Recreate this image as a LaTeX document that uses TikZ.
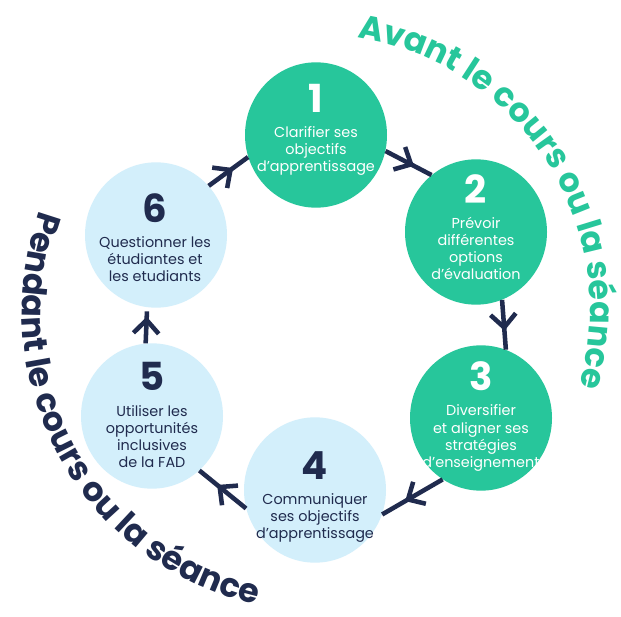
\documentclass[tikz,border=0pt]{standalone}
\usepackage{fontspec}
\setmainfont{Poppins}
\usetikzlibrary{shapes.geometric,arrows.meta,decorations.markings,decorations.text}
\definecolor{cgreen}{HTML}{27C69B}
\definecolor{cblue}{HTML}{D3EFFB}
\definecolor{cnavy}{HTML}{202B4E}
\begin{document}
\begin{tikzpicture}[x=0.75pt,y=-0.75pt,
  stepbox/.style={ellipse, minimum width=106.5pt, minimum height=109pt, inner sep=0pt},
  greenbox/.style={stepbox, fill=cgreen},
  bluebox/.style={stepbox, fill=cblue},
  steptext/.style={align=center, inner sep=0pt, font=\fontsize{10.8}{12.8}\selectfont},
  greentext/.style={steptext, text=white},
  bluetext/.style={steptext, text=cnavy},
  flow/.style={draw=cnavy, line width=3.4pt,
    decoration={markings, mark=at position #1 with {\arrow{Straight Barb[length=10pt,width=19pt,line width=3.4pt]}}},
    postaction={decorate}},
  flow/.default=0.62
]
\newcommand{\stepnum}[1]{{\fontsize{29}{29}\selectfont\bfseries #1}\\[6pt]}
\useasboundingbox[fill=white] (0,0) rectangle (621,617);

\node[greenbox] (n1) at (316,135) {};
\node[greenbox] (n2) at (476,232) {};
\node[greenbox] (n3) at (481,418) {};
\node[bluebox]  (n4) at (315,490) {};
\node[bluebox]  (n5) at (152,416) {};
\node[bluebox]  (n6) at (156,235) {};

\node[greentext] (t1) at (316,130) {\stepnum{1}Clarifier ses\\objectifs\\d’apprentissage};
\node[greentext] (t2) at (476,227.5) {\stepnum{2}Prévoir\\différentes\\options\\d’évaluation};
\node[greentext] (t3) at (481,416.5) {\stepnum{3}Diversifier\\et aligner ses\\stratégies\\d’enseignement};
\node[bluetext] (t4) at (315,497) {\stepnum{4}Communiquer\\ses objectifs\\d’apprentissage};
\node[bluetext] (t5) at (152,415) {\stepnum{5}Utiliser les\\opportunités\\inclusives\\de la FAD};
\node[bluetext] (t6) at (155,237.5) {\stepnum{6}Questionner les\\étudiantes et\\les etudiants};

\draw[flow] (n1.-13) -- (n2.128);
\draw[flow] (n2.-69) -- (n3.70);
\draw[flow] (n3.238) -- (n4.-20);
\draw[flow] (n4.195) -- (n5.-49);
\draw[flow=0.74, shorten >=3pt] (n5.95) -- (n6.263);
\draw[flow] (n6.43) -- (n1.198);

\coordinate (ca) at (314,310);
\coordinate (cp) at (322,312);
\path[decorate, decoration={text along path, text align=center,
   text={|\fontsize{25}{25}\selectfont\bfseries\color{cgreen}|Avant le cours ou la séance}}]
   (ca) ++(-79:276) arc[start angle=-79, end angle=14, radius=276];
\path[decorate, decoration={text along path, text align=center,
   text={|\fontsize{25}{25}\selectfont\bfseries\color{cnavy}|Pendant le cours ou la séance}}]
   (cp) ++(-161.5:300) arc[start angle=-161.5, end angle=-256, radius=300];
\end{tikzpicture}
\end{document}
